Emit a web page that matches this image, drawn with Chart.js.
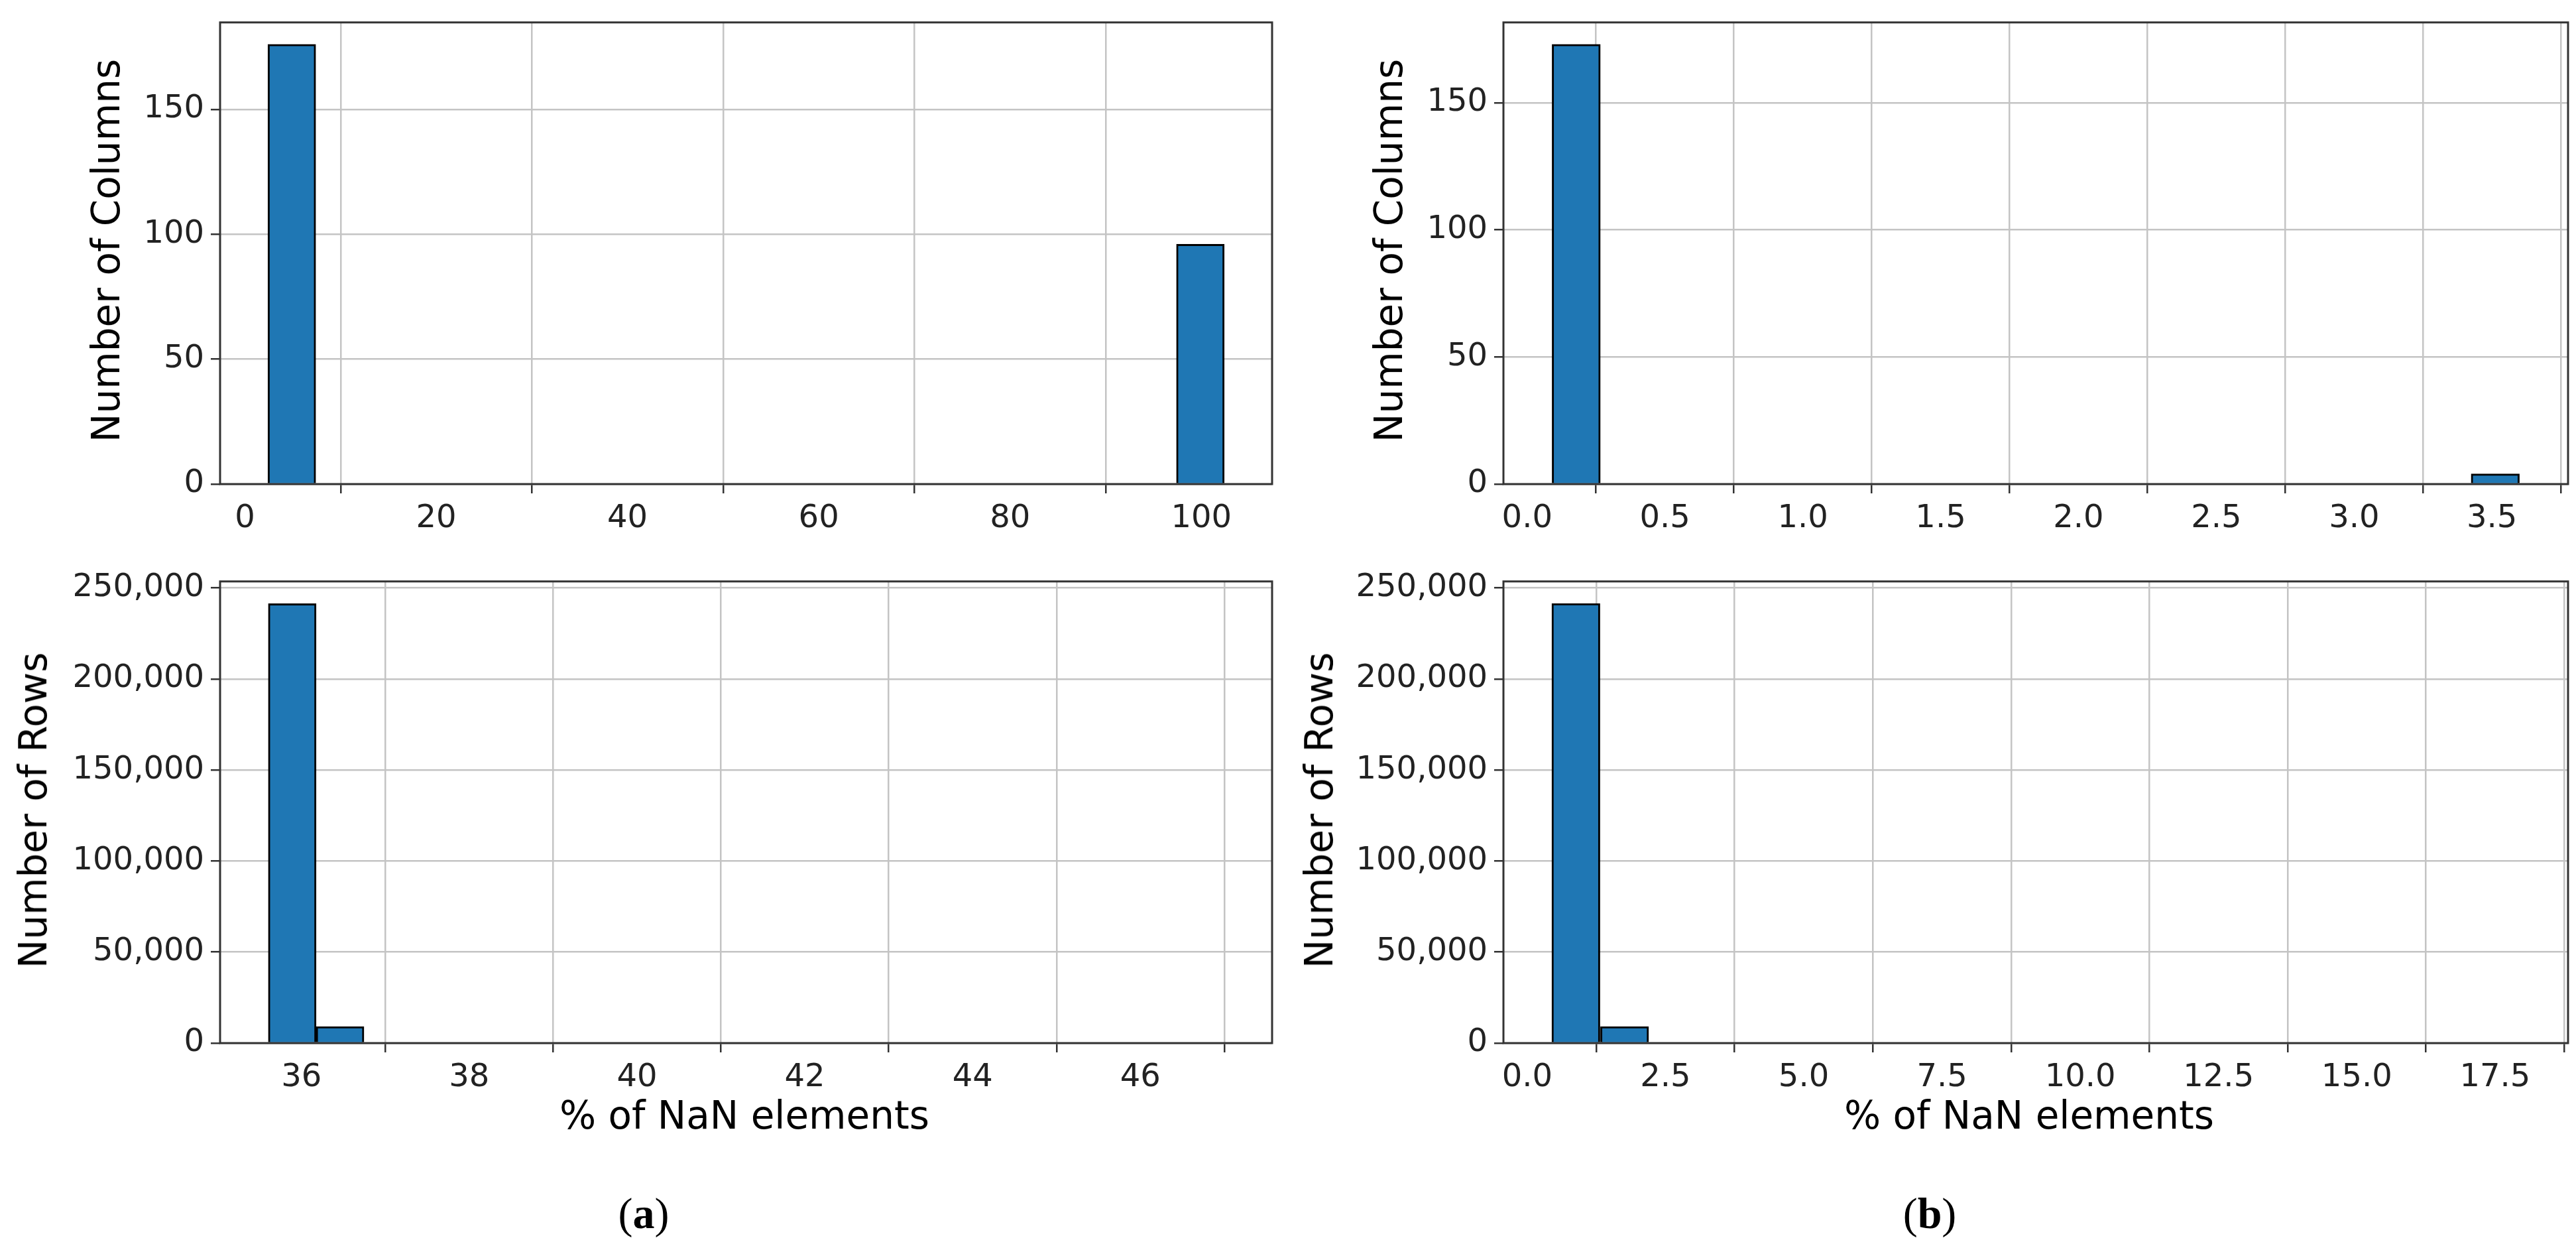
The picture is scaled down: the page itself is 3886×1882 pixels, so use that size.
<!DOCTYPE html>
<html>
<head>
<meta charset="utf-8">
<script src="https://cdn.jsdelivr.net/npm/chart.js@4"></script>
<style>
  body { margin: 0; background: #fff; width: 3886px; height: 1882px; position: relative; overflow: hidden; }
  canvas { position: absolute; }
  .lbl { position: absolute; font-family: "DejaVu Sans"; font-size: 58px; color: #000; white-space: nowrap; }
  .rot { transform: translate(-50%, -50%) rotate(-90deg); }
  .hor { transform: translate(-50%, -50%); }
  .cap { position: absolute; font-family: "Liberation Serif"; font-size: 66px; transform: translate(-50%, -50%); }
</style>
</head>
<body>
<canvas id="c1"></canvas>
<canvas id="c2"></canvas>
<canvas id="c3"></canvas>
<canvas id="c4"></canvas>

<div class="lbl rot" style="left:160px;top:378px">Number of Columns</div>
<div class="lbl rot" style="left:50px;top:1222px">Number of Rows</div>
<div class="lbl rot" style="left:2095px;top:378px">Number of Columns</div>
<div class="lbl rot" style="left:1990px;top:1222px">Number of Rows</div>
<div class="lbl hor" style="left:1123px;top:1682px">% of NaN elements</div>
<div class="lbl hor" style="left:3061px;top:1682px">% of NaN elements</div>
<div class="cap" style="left:971px;top:1830px">(<b>a</b>)</div>
<div class="cap" style="left:2911px;top:1830px">(<b>b</b>)</div>

<script>
  // bin centres and counts
  const colsNanBins = [4.9, 9.9, 14.9, 19.9, 24.9, 29.9, 34.9, 39.9, 44.9, 49.9, 54.9, 59.9, 64.9, 69.9, 74.9, 79.9, 84.9, 89.9, 94.9, 99.9];
  const colsNanCounts = [176, 0, 0, 0, 0, 0, 0, 0, 0, 0, 0, 0, 0, 0, 0, 0, 0, 0, 0, 96];
  const colsNanTicks = [0, 20, 40, 60, 80, 100];

  const colsNanBinsB = [0.178, 0.353, 0.529, 0.704, 0.880, 1.055, 1.231, 1.406, 1.582, 1.757, 1.933, 2.108, 2.284, 2.459, 2.635, 2.810, 2.986, 3.161, 3.337, 3.512];
  const colsNanCountsB = [173, 0, 0, 0, 0, 0, 0, 0, 0, 0, 0, 0, 0, 0, 0, 0, 0, 0, 0, 4];
  const colsNanTicksB = [0, 0.5, 1.0, 1.5, 2.0, 2.5, 3.0, 3.5];

  const rowsNanBins = [35.89, 36.46, 37.03, 37.60, 38.17, 38.74, 39.31, 39.88, 40.45, 41.02, 41.59, 42.16, 42.73, 43.30, 43.87, 44.44, 45.01, 45.58, 46.15, 46.72];
  const rowsNanCounts = [241400, 9060, 0, 0, 0, 0, 0, 0, 0, 0, 0, 0, 0, 0, 0, 0, 0, 0, 0, 0];
  const rowsNanTicks = [36, 38, 40, 42, 44, 46];

  const rowsNanBinsB = [0.88, 1.76, 2.63, 3.51, 4.38, 5.26, 6.13, 7.01, 7.88, 8.76, 9.63, 10.51, 11.38, 12.26, 13.13, 14.01, 14.88, 15.76, 16.63, 17.51];
  const rowsNanCountsB = [241500, 9070, 0, 0, 0, 0, 0, 0, 0, 0, 0, 0, 0, 0, 0, 0, 0, 0, 0, 0];
  const rowsNanTicksB = [0, 2.5, 5.0, 7.5, 10.0, 12.5, 15.0, 17.5];

  const colTicksY = [0, 50, 100, 150];
  const rowTicksY = [0, 50000, 100000, 150000, 200000, 250000];

  const YW = 320, PADT = 30, PADR = 20, XH = 110;

  const frame = {
    id: 'frame',
    afterDraw(chart) {
      const a = chart.chartArea, c = chart.ctx;
      c.save();
      c.strokeStyle = '#333';
      c.lineWidth = 3;
      c.strokeRect(a.left, a.top, a.right - a.left, a.bottom - a.top);
      c.restore();
    }
  };

  function hist(id, box, bins, counts, xr, xt, xfmt, yr, yt) {
    const cv = document.getElementById(id);
    const w = box.r - box.l + YW + PADR, h = box.b - box.t + PADT + XH;
    cv.style.left = (box.l - YW) + 'px';
    cv.style.top = (box.t - PADT) + 'px';
    cv.style.width = w + 'px';
    cv.style.height = h + 'px';
    cv.width = w; cv.height = h;
    const font = { family: 'DejaVu Sans', size: 48 };
    new Chart(cv.getContext('2d'), {
      type: 'bar',
      data: {
        datasets: [{
          data: bins.map((b, i) => ({ x: b, y: counts[i] })),
          backgroundColor: '#1f77b4',
          borderColor: '#000',
          borderWidth: 3,
          barPercentage: 1,
          categoryPercentage: 1,
          borderSkipped: 'bottom'
        }]
      },
      options: {
        responsive: false,
        animation: false,
        devicePixelRatio: 1,
        layout: { padding: { left: 0, top: PADT, right: PADR, bottom: 0 } },
        plugins: { legend: { display: false }, tooltip: { enabled: false } },
        scales: {
          x: {
            type: 'linear', min: xr[0], max: xr[1], offset: false,
            afterBuildTicks: s => { s.ticks = xt.map(v => ({ value: v })); },
            afterFit: s => { s.height = XH; },
            ticks: { font, color: '#222', padding: 10, callback: v => xfmt(v) },
            grid: { color: '#c4c4c4', lineWidth: 2.5, tickLength: 14, tickColor: '#333' },
            border: { display: false }
          },
          y: {
            min: yr[0], max: yr[1],
            afterBuildTicks: s => { s.ticks = yt.map(v => ({ value: v })); },
            afterFit: s => { s.width = YW; },
            ticks: { font, color: '#222', padding: 10, callback: v => v.toLocaleString('en-US') },
            grid: { color: '#c4c4c4', lineWidth: 2.5, tickLength: 14, tickColor: '#333' },
            border: { display: false }
          }
        }
      },
      plugins: [frame]
    });
  }

  const topL = { l: 332, r: 1919, t: 25, b: 730 };
  const botL = { l: 332, r: 1919, t: 868, b: 1573 };
  const topR = { l: 2268, r: 3874, t: 25, b: 730 };
  const botR = { l: 2268, r: 3874, t: 868, b: 1573 };

  hist('c1', topL, colsNanBins, colsNanCounts, [-2.6, 107.4], colsNanTicks, v => String(v), [0, 184.8], colTicksY);
  hist('c2', topR, colsNanBinsB, colsNanCountsB, [-0.086, 3.776], colsNanTicksB, v => v.toFixed(1), [0, 181.6], colTicksY);
  hist('c3', botL, rowsNanBins, rowsNanCounts, [35.03, 47.57], rowsNanTicks, v => String(v), [0, 253600], rowTicksY);
  hist('c4', botR, rowsNanBinsB, rowsNanCountsB, [-0.43, 18.82], rowsNanTicksB, v => v.toFixed(1), [0, 253600], rowTicksY);
</script>
</body>
</html>
